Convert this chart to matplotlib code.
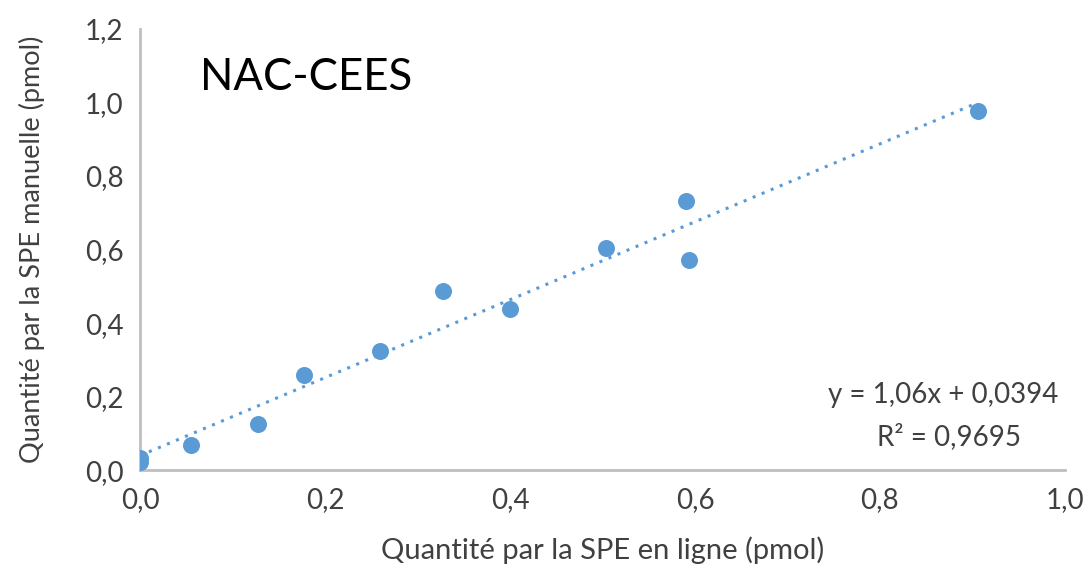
import numpy as np
import matplotlib
matplotlib.use("Agg")
import matplotlib.pyplot as plt
from matplotlib.ticker import FuncFormatter

# data
x_online = [0.0, 0.0, 0.055, 0.128, 0.177, 0.260, 0.328, 0.400, 0.504, 0.590, 0.594, 0.906]
y_manual = [0.033, 0.022, 0.068, 0.126, 0.260, 0.323, 0.487, 0.437, 0.604, 0.733, 0.571, 0.976]
slope = 1.06
intercept = 0.0394
r2 = "0,9695"

plt.rcParams['font.family'] = ['Lato', 'DejaVu Sans']
blue = '#5b9bd5'
grey = '#bfbfbf'
txt = '#404040'

fig = plt.figure(figsize=(10.9, 5.74), dpi=100)
ax = fig.add_axes([0.1284, 0.181, 0.8486, 0.7685])

# trendline
xt = np.array([0.0, max(x_online)])
ax.plot(xt, slope * xt + intercept, linestyle=(0, (1, 2.2)), color=blue, linewidth=2.2, zorder=2)
ax.scatter(x_online, y_manual, s=150, color=blue, zorder=3, linewidths=0)

ax.set_xlim(0, 1.0)
ax.set_ylim(0, 1.2)
ax.set_xticks(np.arange(0, 1.01, 0.2))
ax.set_yticks(np.arange(0, 1.21, 0.2))
fmt = FuncFormatter(lambda v, p: f"{v:.1f}".replace('.', ','))
ax.xaxis.set_major_formatter(fmt)
ax.yaxis.set_major_formatter(fmt)
ax.tick_params(length=0, labelsize=20, colors=txt, pad=12)

for s in ['top', 'right']:
    ax.spines[s].set_visible(False)
for s in ['left', 'bottom']:
    ax.spines[s].set_color(grey)
    ax.spines[s].set_linewidth(2)

ax.set_xlabel("Quantité par la SPE en ligne (pmol)", fontsize=21, color=txt)
ax.set_ylabel("Quantité par la SPE manuelle (pmol)", fontsize=19.5, color=txt)
ax.xaxis.set_label_coords(0.5, -0.15)
ax.yaxis.set_label_coords(-0.103, 0.5)

ax.text(0.065, 0.89, "NAC-CEES", transform=ax.transAxes, fontsize=31.5, color='black', va='center')
ax.text(0.993, 0.17, f"y = {slope:.2f}x + {intercept}".replace('.', ','),
        transform=ax.transAxes, fontsize=20, ha='right', va='center', color=txt)
ax.text(0.953, 0.077, f"R² = {r2}", transform=ax.transAxes, fontsize=20,
        ha='right', va='center', color=txt)

fig.savefig("out.png", dpi=100)
